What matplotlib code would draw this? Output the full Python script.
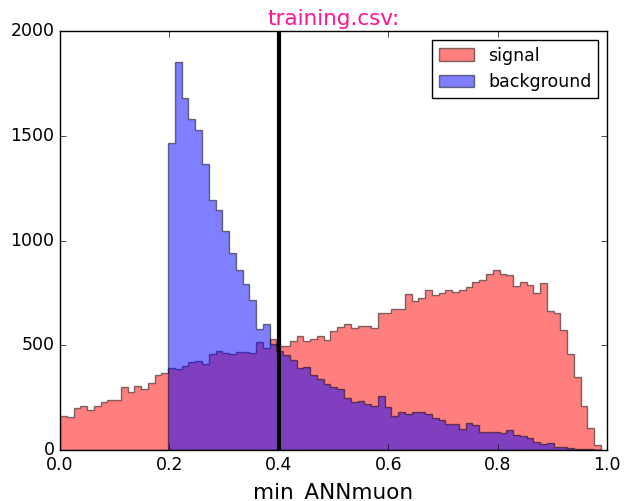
import numpy as np
import matplotlib
matplotlib.use("Agg")
import matplotlib.pyplot as plt

plt.style.use("classic")
plt.rcParams["font.family"] = ["DejaVu Sans"]

# ---- data ----
n_bins = 80
x_max = 0.989
edges = np.linspace(0.0, x_max, n_bins + 1)

signal_counts = [
    164, 159, 199, 212, 191, 212, 228, 240, 237, 299, 275, 305, 293, 321, 356, 369,
    393, 385, 401, 418, 425, 409, 457, 471, 462, 459, 468, 466, 461, 517, 485,
    528,
    498, 495, 522, 543, 522, 530, 544, 525, 569, 589, 601, 582, 592, 592, 584, 655,
    652, 671, 671, 743, 713, 724, 765, 740, 749, 765, 753, 764, 779, 802, 811, 840,
    859, 842, 837, 784, 803, 787, 751, 797, 662, 652, 573, 458, 350, 212, 103, 24,
]
background_start_bin = 16
background_counts = [
    1467, 1850, 1679, 1578, 1526, 1364, 1192, 1144, 1047, 942, 858, 791, 716, 576, 600,
    506,
    474, 452, 428, 390, 395, 356, 337, 315, 303, 290, 248, 231, 235, 220, 211, 258, 207, 164, 179,
    173, 180, 180, 170, 152, 143, 124, 123, 102, 127, 121, 88, 84, 84, 80, 95, 71, 65, 57,
    40, 28, 35, 16, 14, 10, 6, 4, 3, 2,
]
cut_value = 0.4
x_ticks = [0.0, 0.2, 0.4, 0.6, 0.8, 1.0]
y_ticks = [0, 500, 1000, 1500, 2000]

# ---- plot ----
fig = plt.figure(figsize=(6.24, 5.01), dpi=100, facecolor="white")
ax = fig.add_axes([60 / 624, 1 - 450 / 501, 547 / 624, 419 / 501])
ax.set_facecolor("white")

centers = 0.5 * (edges[:-1] + edges[1:])
ax.hist(centers, bins=edges, weights=signal_counts, histtype="stepfilled",
        alpha=0.5, color="red", edgecolor="black", linewidth=1.0, label="signal")
bg_edges = edges[background_start_bin:]
bg_centers = centers[background_start_bin:]
ax.hist(bg_centers, bins=bg_edges, weights=background_counts, histtype="stepfilled",
        alpha=0.5, color="blue", edgecolor="black", linewidth=1.0, label="background")

ax.axvline(cut_value, color="black", linewidth=3)

ax.set_xlim(0, 1)
ax.set_ylim(0, 2000)
ax.set_xticks(x_ticks)
ax.set_yticks(y_ticks)
ax.tick_params(labelsize=12.5)
ax.set_xlabel("min_ANNmuon", fontsize=15.5, labelpad=7)
ax.set_title("training.csv:", color="#ff1493", fontsize=15.5, pad=4)
ax.legend(loc="upper right", fontsize=12.5)

fig.savefig("out.png", dpi=100, facecolor="white")
